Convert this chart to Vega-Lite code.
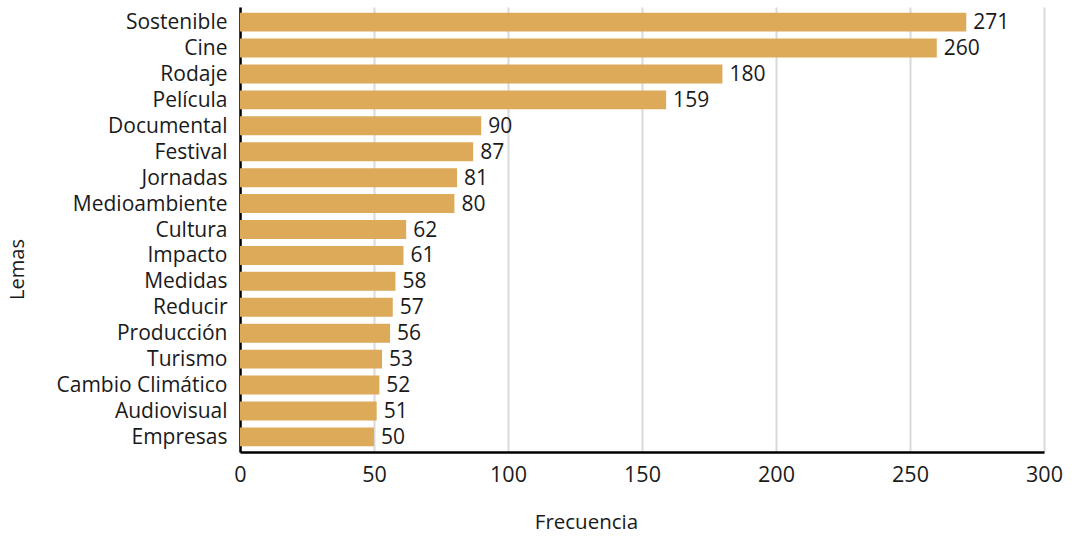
{
  "$schema": "https://vega.github.io/schema/vega-lite/v6.json",
  "autosize": "none",
  "width": 804,
  "height": 445,
  "padding": {"left": 240, "top": 7, "right": 30, "bottom": 86},
  "background": "white",
  "config": {
    "view": {"stroke": null},
    "font": "Open Sans",
    "axis": {"labelFont": "Open Sans", "titleFont": "Open Sans"}
  },
  "data": {
    "values": [
      {"lema": "Sostenible", "freq": 271},
      {"lema": "Cine", "freq": 260},
      {"lema": "Rodaje", "freq": 180},
      {"lema": "Película", "freq": 159},
      {"lema": "Documental", "freq": 90},
      {"lema": "Festival", "freq": 87},
      {"lema": "Jornadas", "freq": 81},
      {"lema": "Medioambiente", "freq": 80},
      {"lema": "Cultura", "freq": 62},
      {"lema": "Impacto", "freq": 61},
      {"lema": "Medidas", "freq": 58},
      {"lema": "Reducir", "freq": 57},
      {"lema": "Producción", "freq": 56},
      {"lema": "Turismo", "freq": 53},
      {"lema": "Cambio Climático", "freq": 52},
      {"lema": "Audiovisual", "freq": 51},
      {"lema": "Empresas", "freq": 50}
    ]
  },
  "encoding": {
    "y": {
      "field": "lema",
      "type": "nominal",
      "sort": {"field": "freq", "order": "descending"},
      "scale": {"paddingInner": 0.27, "paddingOuter": 0.22},
      "axis": {
        "title": "Lemas",
        "titleFontSize": 20,
        "titleFontWeight": "normal",
        "titleColor": "#1a1a1a",
        "titleAngle": 270,
        "titleX": -223,
        "titleY": 262,
        "titleAlign": "center",
        "titleBaseline": "middle",
        "labelFontSize": 21,
        "labelColor": "#1a1a1a",
        "labelPadding": 13,
        "labelBaseline": "middle",
        "labelOffset": 1,
        "ticks": false,
        "grid": false,
        "domainColor": "#000000",
        "domainWidth": 2.5
      }
    },
    "x": {
      "field": "freq",
      "type": "quantitative",
      "scale": {"domain": [0, 300], "nice": false},
      "axis": {
        "title": "Frecuencia",
        "titleFontSize": 20.5,
        "titleFontWeight": "normal",
        "titleColor": "#1a1a1a",
        "titleX": 346,
        "titleY": 70,
        "titleAlign": "center",
        "titleBaseline": "middle",
        "values": [0, 50, 100, 150, 200, 250, 300],
        "labelFontSize": 21.5,
        "labelColor": "#1a1a1a",
        "labelPadding": 12,
        "labelFlush": false,
        "ticks": false,
        "grid": true,
        "gridColor": "#d9d9d9",
        "gridWidth": 2,
        "domainColor": "#000000",
        "domainWidth": 2.5
      }
    }
  },
  "layer": [
    {"mark": {"type": "bar", "color": "#DCAA58"}},
    {
      "mark": {"type": "text", "align": "left", "baseline": "middle", "dx": 7, "dy": 1, "fontSize": 21, "color": "#1a1a1a"},
      "encoding": {"text": {"field": "freq", "type": "quantitative"}}
    }
  ]
}
